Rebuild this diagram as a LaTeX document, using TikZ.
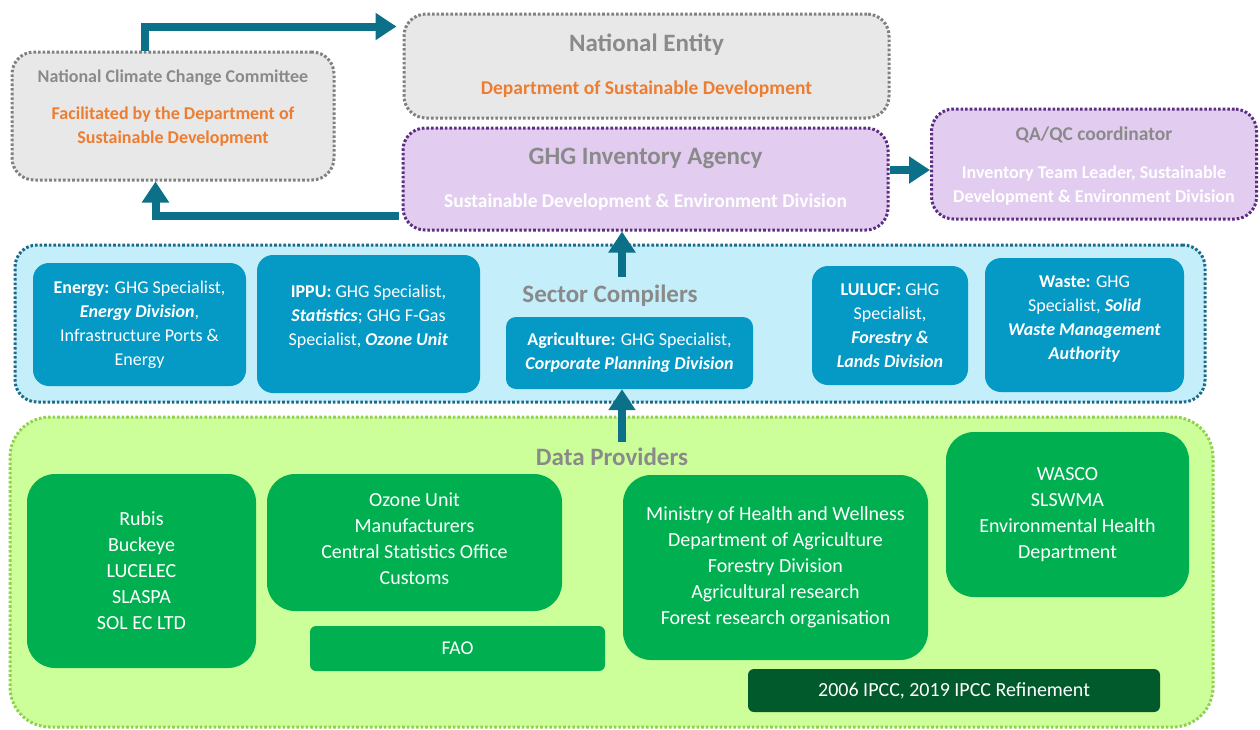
\documentclass[tikz,border=0pt]{standalone}
\usepackage{fontspec}
\setmainfont{Carlito}
\usetikzlibrary{arrows.meta,calc}
\definecolor{tealarr}{HTML}{0B7088}
\definecolor{grayf}{HTML}{E8E8E8}
\definecolor{grayb}{HTML}{808080}
\definecolor{graytx}{HTML}{8A8A8A}
\definecolor{orangetx}{HTML}{ED7D31}
\definecolor{purpf}{HTML}{E2CDF0}
\definecolor{purpb}{HTML}{5C2D82}
\definecolor{cyanf}{HTML}{C4EEFA}
\definecolor{cyanb}{HTML}{1A6B8A}
\definecolor{blueb}{HTML}{0599C6}
\definecolor{greenf}{HTML}{CCFF99}
\definecolor{greenbd}{HTML}{92D050}
\definecolor{greenb}{HTML}{00B050}
\definecolor{dgreen}{HTML}{005A2B}
\newcommand\fsz[2]{\fontsize{#1}{#2}\selectfont}
\begin{document}
\begin{tikzpicture}[x=1pt,y=-1pt,
  dotbox/.style={line width=3pt, dash pattern=on 2.6pt off 2pt, rounded corners=22pt, inner sep=0pt},
  gbox/.style={dotbox, draw=grayb, fill=grayf},
  pbox/.style={dotbox, draw=purpb, fill=purpf},
  cbox/.style={dotbox, draw=cyanb, fill=cyanf},
  dbox/.style={dotbox, draw=greenbd, fill=greenf, rounded corners=40pt},
  bluebox/.style={fill=blueb, rounded corners=16pt, inner sep=0pt, text=white, align=center, font=\fsz{18}{24}},
  btext/.style={inner sep=0pt, text=white, align=center, font=\fsz{18}{24}},
  greenbox/.style={fill=greenb, rounded corners=28pt, inner sep=0pt, text=white, align=center, font=\fsz{20}{26}},
  gtext/.style={inner sep=0pt, text=white, align=center, font=\fsz{20}{26}},
  flatbox/.style={rounded corners=6pt, inner sep=0pt, text=white, align=center, font=\fsz{19.5}{24}},
  title/.style={inner sep=0pt, text=graytx, font=\bfseries\fsz{#1}{24}},
  otext/.style={inner sep=0pt, text=orangetx, align=center, font=\bfseries\fsz{#1}{24}},
  wtext/.style={inner sep=0pt, text=white, align=center, font=\bfseries\fsz{#1}{24}},
  arr/.style={draw=tealarr, line width=8pt, -{Triangle[width=26pt,length=21pt]}}
]
\useasboundingbox (0,0) rectangle (1260,729);

% top boxes
\node[gbox, minimum width=322pt, minimum height=128pt] (nccc) at (173,116) {};
\node[title=18] (ncct) at (173,78) {National Climate Change Committee};
\node[otext=18] (ncco) at (173,127) {Facilitated by the Department of\\Sustainable Development};

\node[gbox, minimum width=485pt, minimum height=104pt] (entity) at (646.5,66) {};
\node[title=25] (entt) at (646.5,45) {National Entity};
\node[otext=19.5] (ento) at (646.5,89) {Department of Sustainable Development};

\node[pbox, minimum width=485pt, minimum height=102pt] (ghg) at (645.5,179) {};
\node[title=25] (ghgt) at (645.5,158) {GHG Inventory Agency};
\node[wtext=19.5] (ghgw) at (645.5,202) {Sustainable Development \& Environment Division};

\node[pbox, minimum width=325pt, minimum height=110pt] (qa) at (1094,164) {};
\node[title=19.5] (qat) at (1094,135) {QA/QC coordinator};
\node[wtext=18] (qaw) at (1094,186) {Inventory Team Leader, Sustainable\\Development \& Environment Division};

% sector compilers
\node[cbox, minimum width=1190pt, minimum height=157pt] (sector) at (610,323.5) {};
\node[title=25] (sectt) at (610,296) {Sector Compilers};
\node[bluebox, minimum width=213pt, minimum height=123pt] (energy) at (139.5,324.5)
  {\textbf{Energy:} GHG Specialist,\\\textbf{\textit{Energy Division}},\\Infrastructure Ports \&\\Energy};
\node[bluebox, minimum width=223pt, minimum height=138pt] (ippu) at (368.5,324) {};
\node[btext] (ipput) at (368.5,317)
  {\textbf{IPPU:} GHG Specialist,\\\textbf{\textit{Statistics}}; GHG F-Gas\\Specialist, \textbf{\textit{Ozone Unit}}};
\node[bluebox, minimum width=247pt, minimum height=72pt, rounded corners=10pt] (agri) at (629.5,353)
  {\textbf{Agriculture:} GHG Specialist,\\\textbf{\textit{Corporate Planning Division}}};
\node[bluebox, minimum width=156pt, minimum height=119pt] (lulucf) at (890,325.5)
  {\textbf{LULUCF:} GHG\\Specialist,\\\textbf{\textit{Forestry \&}}\\\textbf{\textit{Lands Division}}};
\node[bluebox, minimum width=199pt, minimum height=134pt] (waste) at (1084.5,325) {};
\node[btext] (wastet) at (1084.5,319)
  {\textbf{Waste:} GHG\\Specialist, \textbf{\textit{Solid}}\\\textbf{\textit{Waste Management}}\\\textbf{\textit{Authority}}};

% data providers
\node[dbox, minimum width=1203pt, minimum height=310pt] (data) at (611.5,572) {};
\node[title=25] (datat) at (612,457) {Data Providers};
\node[greenbox, minimum width=229pt, minimum height=194pt] (fuel) at (141.5,571)
  {Rubis\\Buckeye\\LUCELEC\\SLASPA\\SOL EC LTD};
\node[greenbox, minimum width=295pt, minimum height=137pt] (ozone) at (414.5,542.5) {};
\node[gtext] (ozonet) at (414.5,538.5)
  {Ozone Unit\\Manufacturers\\Central Statistics Office\\Customs};
\node[flatbox, fill=greenb, minimum width=295pt, minimum height=45pt] (fao) at (457.5,648.5) {FAO};
\node[greenbox, minimum width=305pt, minimum height=185pt] (mohw) at (775.5,567.5)
  {Ministry of Health and Wellness\\Department of Agriculture\\Forestry Division\\Agricultural research\\Forest research organisation};
\node[greenbox, minimum width=243pt, minimum height=165pt] (wasco) at (1067.5,514.5)
  {WASCO\\SLSWMA\\Environmental Health\\Department};
\node[flatbox, fill=dgreen, font=\fsz{20}{24}, minimum width=412pt, minimum height=43pt] (ipcc) at (954,690.5)
  {2006 IPCC, 2019 IPCC Refinement};

% connectors
\draw[arr] ($(nccc.north west)+(134,0)$) |- ($(entity.north west)+(-6,14)$);
\draw[arr] ($(ghg.south west)+(-3,-16)$) -| ($(nccc.south west)+(145,0)$);
\draw[arr] ($(ghg.east)+(0,-9)$) -- ($(qa.west)+(0,6)$);
\coordinate (s4) at (622,277);
\draw[arr] (s4) -- (s4 |- ghg.south);
\coordinate (s5) at (622,442);
\draw[arr] (s5) -- (s5 |- agri.south);
\end{tikzpicture}
\end{document}
